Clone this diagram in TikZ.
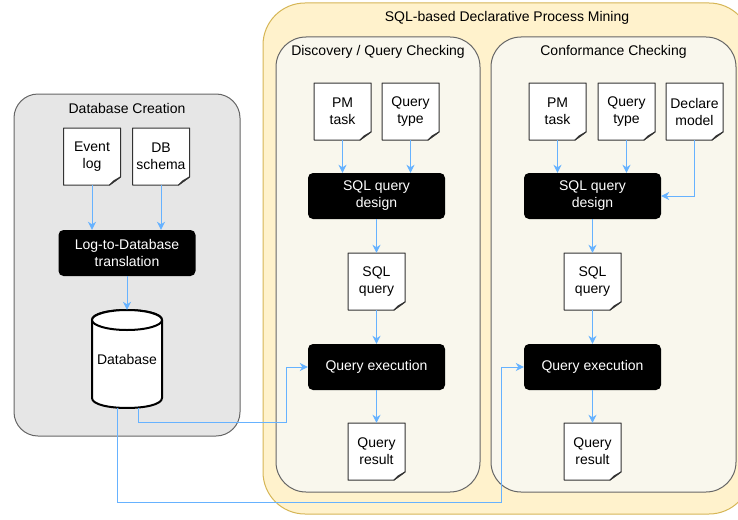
\documentclass[tikz,border=0pt]{standalone}
\usepackage{fontspec}
\setmainfont{Liberation Sans}
\usepackage{xcolor}
\usetikzlibrary{positioning,shapes.geometric,arrows.meta,calc}

\definecolor{flowblue}{HTML}{66B2FF}
\definecolor{groupgray}{HTML}{E6E6E6}
\definecolor{pmyellow}{HTML}{FFF2CC}
\definecolor{pmborder}{HTML}{D6B656}
\definecolor{subfill}{HTML}{F9F7ED}
\definecolor{edgegray}{HTML}{666666}

\newcommand{\lbl}{\fontsize{14}{17}\selectfont}

\tikzset{
  group/.style={draw=edgegray, line width=1pt, inner sep=0pt},
  grouptitle/.style={font=\lbl, inner sep=0pt},
  task/.style={fill=black, rounded corners=5pt, minimum width=137pt, minimum height=46pt,
    text=white, align=center, font=\lbl, inner sep=0pt},
  doc/.style={minimum width=57pt, minimum height=57pt, align=center, font=\lbl, inner sep=0pt},
  docline/.style={draw=black!80, fill=white, line width=1pt, line join=round},
  dbline/.style={draw=black, fill=white, line width=2pt},
  flow/.style={draw=flowblue, line width=1pt, -{Stealth[length=8pt,width=8pt,inset=2.5pt]}},
}

% document with folded corner: name, centre, text
\newcommand{\docnode}[3]{%
  \filldraw[docline, shift={(#2)}] (-28.5,-28.5) -- (28.5,-28.5) -- (28.5,20.5)
    -- (17.5,28.5) -- (-28.5,28.5) -- cycle;
  \draw[docline, shift={(#2)}] (17.5,28.5) -- (28.5,20.5) -- (21.5,24.5) -- cycle;
  \node[doc] (#1) at (#2) {#3};
}

\begin{document}
\begin{tikzpicture}[x=1pt,y=-1pt]
\useasboundingbox (0,0) rectangle (738,519);
\clip (0,0) rectangle (738,519);

% containers
\node[group, fill=groupgray, rounded corners=24pt, minimum width=226pt, minimum height=342pt] (dbgroup) at (127,265) {};
\node[grouptitle] (dbtitle) at ([yshift=-15pt]dbgroup.north) {Database Creation};

\node[group, draw=pmborder, fill=pmyellow, rounded corners=42pt, minimum width=488pt, minimum height=511pt] (pmgroup) at (507,258.5) {};
\node[grouptitle] (pmtitle) at ([yshift=-15pt]pmgroup.north) {SQL-based Declarative Process Mining};

\node[group, fill=subfill, rounded corners=30pt, minimum width=204pt, minimum height=455pt] (discgroup) at (378,264.5) {};
\node[grouptitle] (disctitle) at ([yshift=-15pt]discgroup.north) {Discovery / Query Checking};

\node[group, fill=subfill, rounded corners=30pt, minimum width=245pt, minimum height=455pt] (confgroup) at (613.5,264.5) {};
\node[grouptitle] (conftitle) at ([yshift=-15pt]confgroup.north) {Conformance Checking};

% database creation
\docnode{evlog}{92,156.5}{Event\\log}
\docnode{dbschema}{161,156.5}{DB\\schema}
\node[task] (trans) at (127,253) {Log-to-Database\\translation};

% cylinder
\filldraw[dbline] (92,320) -- (92,398) .. controls (92,411.3) and (162,411.3) .. (162,398)
  -- (162,320) .. controls (162,306.7) and (92,306.7) .. (92,320) -- cycle;
\draw[dbline] (127,320) ellipse [x radius=35, y radius=10];
\node[minimum width=70pt, minimum height=98pt, inner sep=0pt, font=\lbl] (db) at (127,359) {Database};

% discovery / query checking
\docnode{pmtask1}{342.5,111.5}{PM\\task}
\docnode{qtype1}{410.5,111.5}{Query\\type}
\node[task] (design1) at (376.5,196) {SQL query\\design};
\docnode{sqlq1}{376.5,281.5}{SQL\\query}
\node[task] (exec1) at (376.5,367) {Query execution};
\docnode{result1}{376.5,451.5}{Query\\result}

% conformance checking
\docnode{pmtask2}{557.5,111.5}{PM\\task}
\docnode{qtype2}{626.5,111.5}{Query\\type}
\docnode{declare}{694.5,111.5}{Declare\\model}
\node[task] (design2) at (592.5,196) {SQL query\\design};
\docnode{sqlq2}{592.5,281.5}{SQL\\query}
\node[task] (exec2) at (592.5,367) {Query execution};
\docnode{result2}{592.5,451.5}{Query\\result}

% connectors
\draw[flow] (evlog.south) -- (evlog.south |- trans.north);
\draw[flow] (dbschema.south) -- (dbschema.south |- trans.north);
\draw[flow] (trans.south) -- (db.north);

\draw[flow] (pmtask1.south) -- (pmtask1.south |- design1.north);
\draw[flow] (qtype1.south) -- (qtype1.south |- design1.north);
\draw[flow] (design1.south) -- (sqlq1.north);
\draw[flow] (sqlq1.south) -- (exec1.north);
\draw[flow] (exec1.south) -- (result1.north);

\draw[flow] (pmtask2.south) -- (pmtask2.south |- design2.north);
\draw[flow] (qtype2.south) -- (qtype2.south |- design2.north);
\draw[flow] (declare.south) |- (design2.east);
\draw[flow] (design2.south) -- (sqlq2.north);
\draw[flow] (sqlq2.south) -- (exec2.north);
\draw[flow] (exec2.south) -- (result2.north);

\draw[flow] ([xshift=11pt]db.south) -- ++(0,14) -| ([xshift=-21pt]exec1.west) -- (exec1.west);
\draw[flow] ([xshift=-10pt]db.south) -- ++(0,94) -| ([xshift=-22pt]exec2.west) -- (exec2.west);
\end{tikzpicture}
\end{document}
